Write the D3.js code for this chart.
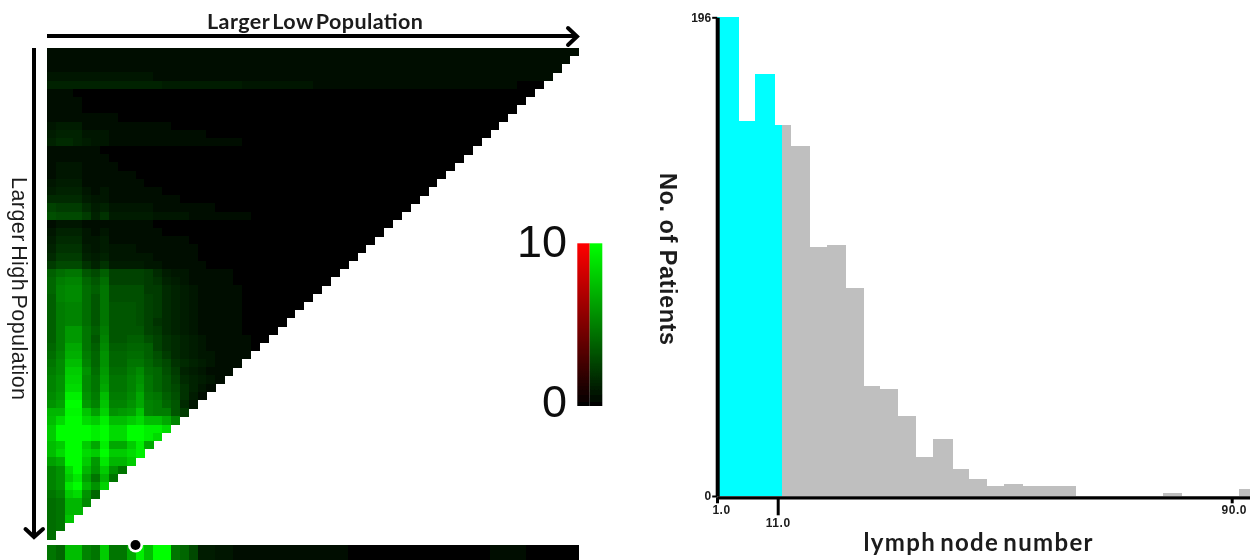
<!DOCTYPE html>
<html>
<head>
<meta charset="utf-8">
<script src="https://d3js.org/d3.v7.min.js"></script>
<style>
  html, body { margin: 0; padding: 0; background: #fff; overflow: hidden; }
  .tick text { font-family: "Liberation Sans", Arial, sans-serif; font-weight: bold; fill: #1a1a1a; }
</style>
</head>
<body>
<div id="chart"></div>
<script>
// heat map levels, one string per row, top row first.
// each character is a base 36 level (0-z), cells past the end of a string are black
var heatRows = [
  "222222211111111111111111111111111111111111111111111111111111",
  "22222221111111111111111111111111111111111111111111111111111",
  "2222222222222222111111111111111111111111111111111111111111",
  "333333333333222222222211111111111111111111111111111111111",
  "55555555555554444444443333333322222222221111111111111",
  "111",
  "1111",
  "1111",
  "22221111",
  "34442222111111",
  "455533322211111111",
  "5665433222222211111111",
  "122211",
  "2222111",
  "23332111",
  "2333222111",
  "34442221111",
  "4555323221111",
  "666643322222111",
  "9888645333332222111",
  "baaa8574444433332222211",
  "233321211111",
  "3555323222211",
  "4666334222222111",
  "57774343332221111",
  "68885453333322211",
  "8aaa75744443322211",
  "dfggcad99998643322111",
  "ehiiecf99998754322111",
  "eijjfdgbbbb88654322111",
  "dijjfcgbbbb98654322111",
  "dhiifcgcccb98654322111",
  "dhiifcgcccb98654322111",
  "dhiifcgcccb97654322111",
  "dhllgdhcccc98654322111",
  "dhllgciccddb97654322111",
  "ehnngdjddeed97654322111",
  "fioohekeeffdb8654332111",
  "gjqqiekeeggeca765432111",
  "hjsskflffhjfeb85432111",
  "ikttjgmggikgec9654321",
  "ikuujgnggilgeca7532",
  "jlxxkhqhhjnhgdb742",
  "kmzzliriiknihec63",
  "ppyyrmtklmrihhc8",
  "quzzusxqqsuqqni",
  "szzzzxzuuzzxxu",
  "szzzzxzuuzzxu",
  "qszzsnxnnsxn",
  "quzzuszssux",
  "mozzslwpps",
  "ikuzpkskg",
  "ikswmgpg",
  "ikwzpkt",
  "gisuke",
  "fgppj",
  "fgpp",
  "fgr",
  "fg",
  "f"
];
var stripLevels = "geqqigsggnxqzzgea4433222211111222100000000000000001221";

// histogram, bin edges are in lymph node number
var binEdges = [1, 4.57, 7.31, 10.5, 13.31, 16.5, 19.53, 22.76, 25.9, 28.8, 31.93, 35.06, 38.02, 41.33, 44.23, 47.37, 50.43, 53.63, 56.64, 59.69, 62.78];
var binCounts = [196, 153.6, 172.7, 152, 143.2, 101.8, 102.8, 85, 44.9, 43.7, 32.7, 15.8, 23.2, 11, 6.8, 4.1, 4.8, 4.1, 4.1, 4.1];
var extraBinStarts = [78.04, 91.26];
var extraBinEnds = [81.35, 94.4];
var extraBinCounts = [1.1, 3];
var cyanEnd = 11.8;
var xTicks = [1, 11, 90];
var yTicks = [0, 196];
var legendTicks = [0, 10];

var width = 1250, height = 560;
var nCells = heatRows.length;
var rowIdx = d3.range(nCells);

var svg = d3.select("#chart").append("svg")
  .attr("width", width)
  .attr("height", height)
  .style("display", "block");

var defs = svg.append("defs");
// the reference is a soft upscaled image
var soft = defs.append("filter").attr("id", "soft")
  .attr("filterUnits", "userSpaceOnUse")
  .attr("x", 0).attr("y", 0)
  .attr("width", width).attr("height", height);
soft.append("feGaussianBlur").attr("stdDeviation", 0.7);

function addGrad(id, top) {
  var g = defs.append("linearGradient").attr("id", id)
    .attr("x1", 0).attr("y1", 0).attr("x2", 0).attr("y2", 1);
  g.append("stop").attr("offset", "0%").attr("stop-color", top);
  g.append("stop").attr("offset", "100%").attr("stop-color", "#000");
}
addGrad("gradRed", "#ff0000");
addGrad("gradGreen", "#00ff00");

var root = svg.append("g").attr("filter", "url(#soft)");

////////////////* HEAT MAP *////////////////////
var colX = d3.scaleBand().domain(rowIdx).range([46.8, 579]);
var rowY = d3.scaleBand().domain(rowIdx).range([47.8, 539.3]);
var color = d3.scaleLinear().domain([0, 10]).range(["#000000", "#00ff00"]);

function toValue(c) {
  return parseInt(c, 36) * 10 / 35;
}

var cells = [];
heatRows.forEach(function(s, r) {
  var full = s.padEnd(nCells - r, "0").slice(0, nCells - r);
  full.split("").forEach(function(c, k) {
    cells.push({ row: r, col: k, value: toValue(c) });
  });
});

root.append("g").selectAll("rect")
  .data(cells)
  .enter()
  .append("rect")
    .attr("x", function(d) { return colX(d.col); })
    .attr("y", function(d) { return rowY(d.row); })
    .attr("width", colX.bandwidth() + 0.3)
    .attr("height", rowY.bandwidth() + 0.3)
    .style("fill", function(d) { return color(d.value); })
    .attr("shape-rendering", "crispEdges");

// bottom strip
var strip = stripLevels.padEnd(nCells, "0").split("").map(toValue);
root.append("g").selectAll("rect")
  .data(strip)
  .enter()
  .append("rect")
    .attr("x", function(d, i) { return colX(i); })
    .attr("y", 544.5)
    .attr("width", colX.bandwidth() + 0.3)
    .attr("height", 15)
    .style("fill", function(d) { return color(d); })
    .attr("shape-rendering", "crispEdges");

root.append("circle").attr("cx", colX(10)).attr("cy", 545).attr("r", 7.5).style("fill", "#fff");
root.append("circle").attr("cx", colX(10)).attr("cy", 545).attr("r", 5).style("fill", "#000");

// arrows
var arrows = root.append("g").style("fill", "none").style("stroke", "#000").style("stroke-width", 4);
arrows.append("path").attr("d", "M47,36H577");
arrows.append("path").attr("d", "M568,28L577,36.5L568,45").attr("stroke-linecap", "round");
arrows.append("path").attr("d", "M34,48V536");
arrows.append("path").attr("d", "M25.5,529L34,537L43,529").attr("stroke-linecap", "round");

root.append("text")
  .attr("x", 315).attr("y", 29)
  .attr("text-anchor", "middle")
  .style("font-family", "Lato, sans-serif")
  .style("font-size", "21.5px")
  .style("font-weight", "bold")
  .style("word-spacing", "-3px")
  .style("fill", "#1a1a1a")
  .attr("textLength", 216)
  .text("Larger Low Population");

root.append("text")
  .attr("transform", "translate(12,288.5) rotate(90)")
  .attr("text-anchor", "middle")
  .style("font-family", "'Liberation Sans', Arial, sans-serif")
  .style("font-size", "21.5px")
  .style("word-spacing", "-3px")
  .style("fill", "#1a1a1a")
  .attr("textLength", 223)
  .text("Larger High Population");

////////////////* LEGEND *////////////////////
var legendY = d3.scaleLinear().domain([0, 10]).range([406, 243.3]);

root.append("rect").attr("x", 577.3).attr("y", legendY(10)).attr("width", 12.4)
  .attr("height", legendY(0) - legendY(10)).style("fill", "url(#gradRed)");
root.append("rect").attr("x", 589.7).attr("y", legendY(10)).attr("width", 12.6)
  .attr("height", legendY(0) - legendY(10)).style("fill", "url(#gradGreen)");

root.selectAll(".legendLabel")
  .data(legendTicks)
  .enter()
  .append("text")
    .attr("class", "legendLabel")
    .attr("x", 567)
    .attr("y", function(d) { return legendY(d) + (d == 0 ? 11 : 14); })
    .attr("text-anchor", "end")
    .style("font-family", "'Liberation Sans', Arial, sans-serif")
    .style("font-size", "45px")
    .style("fill", "#111")
    .text(function(d) { return d; });

////////////////* HISTOGRAM *////////////////////
var xScale = d3.scaleLinear().domain([1, 11, 90, 93.2]).range([717, 777.7, 1231.7, 1250]);
var yScale = d3.scaleLinear().domain([0, 196]).range([496, 17.3]);

var bins = binCounts.map(function(c, i) {
  return { x0: binEdges[i], x1: binEdges[i + 1], count: c };
});
extraBinCounts.forEach(function(c, i) {
  bins.push({ x0: extraBinStarts[i], x1: extraBinEnds[i], count: c });
});

root.append("g").selectAll("rect")
  .data(bins)
  .enter()
  .append("rect")
    .attr("x", function(d) { return xScale(d.x0); })
    .attr("y", function(d) { return yScale(d.count); })
    .attr("width", function(d) { return xScale(d.x1) - xScale(d.x0) + 0.5; })
    .attr("height", function(d) { return yScale(0) - yScale(d.count); })
    .attr("shape-rendering", "crispEdges")
    .style("fill", "#bfbfbf");

root.append("g").selectAll("rect")
  .data(bins.filter(function(d) { return d.x0 < cyanEnd; }))
  .enter()
  .append("rect")
    .attr("x", function(d) { return xScale(d.x0); })
    .attr("y", function(d) { return yScale(d.count); })
    .attr("width", function(d) { return xScale(Math.min(d.x1, cyanEnd)) - xScale(d.x0); })
    .attr("height", function(d) { return yScale(0) - yScale(d.count); })
    .attr("shape-rendering", "crispEdges")
    .style("fill", "#00ffff");

var xAxis = d3.axisBottom(xScale)
  .tickValues(xTicks)
  .tickFormat(d3.format(".1f"))
  .tickSize(6)
  .tickSizeOuter(0);

var xG = root.append("g")
  .attr("transform", "translate(0,497.3)")
  .call(xAxis);
xG.select(".domain").style("stroke", "#000").style("stroke-width", 3.2);
xG.selectAll(".tick line").style("stroke", "#000").style("stroke-width", 3);
xG.selectAll(".tick text")
  .style("font-size", "12px")
  .style("letter-spacing", "0.5px")
  .attr("y", 8.5)
  .attr("dy", "0.71em");
xG.selectAll(".tick")
  .filter(function(d) { return d == 1; })
  .select("text").attr("x", 4);
xG.selectAll(".tick")
  .filter(function(d) { return d == 90; })
  .select("text").attr("x", 2);
// 11.0 is the cut point, it gets the long tick
var cutTick = xG.selectAll(".tick").filter(function(d) { return d == 11; });
cutTick.select("line").attr("y2", 18);
cutTick.select("text").attr("y", 21.5);

var yAxis = d3.axisLeft(yScale)
  .tickValues(yTicks)
  .tickSize(5)
  .tickSizeOuter(0);

var yG = root.append("g")
  .attr("transform", "translate(717.2,0)")
  .call(yAxis);
yG.select(".domain").style("stroke", "#000").style("stroke-width", 4);
yG.selectAll(".tick line").style("stroke", "#000").style("stroke-width", 2);
yG.selectAll(".tick text").style("font-size", "12px").attr("x", -6);

root.append("text")
  .attr("x", 978).attr("y", 551)
  .attr("text-anchor", "middle")
  .style("font-family", "Lato, sans-serif")
  .style("font-size", "24px")
  .style("font-weight", "bold")
  .style("word-spacing", "-3px")
  .style("fill", "#1a1a1a")
  .attr("textLength", 229)
  .text("lymph node number");

root.append("text")
  .attr("transform", "translate(660,259) rotate(90)")
  .attr("text-anchor", "middle")
  .style("font-family", "'Liberation Sans', Arial, sans-serif")
  .style("font-size", "23.5px")
  .style("font-weight", "bold")
  .style("fill", "#1a1a1a")
  .attr("textLength", 172)
  .text("No. of Patients");
</script>
</body>
</html>
